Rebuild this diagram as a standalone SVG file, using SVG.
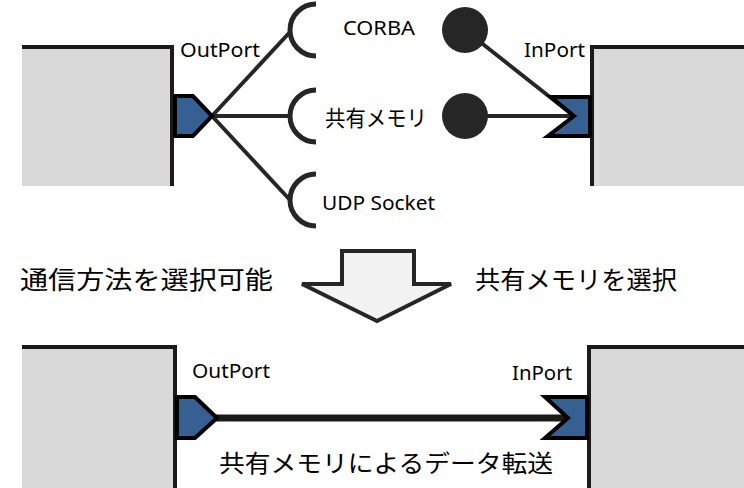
<svg xmlns="http://www.w3.org/2000/svg" width="744" height="488" viewBox="0 0 744 488">
<style>
.blk{fill:#d9d9d9;stroke:none}
.edge{stroke:#1c1a18;stroke-width:4;fill:none}
.port{fill:#376092;stroke:#000;stroke-width:4;stroke-linejoin:miter}
.wire{stroke:#262626;stroke-width:4;fill:none}
.sock{stroke:#262626;stroke-width:5;fill:none}
.ball{fill:#262626}
.lat{font-family:"Noto Sans","Open Sans",sans-serif;font-size:20px;fill:#000}
.jp{font-family:"Noto Sans CJK JP",sans-serif;fill:#000}
</style>
<rect width="744" height="488" fill="#fff"/>
<g id="connectors">
<line class="wire" x1="212" y1="116" x2="290" y2="32"/>
<line class="wire" x1="212" y1="116" x2="290" y2="116"/>
<line class="wire" x1="212" y1="116" x2="290" y2="200"/>
<line class="wire" x1="465" y1="30" x2="574" y2="116"/>
<line class="wire" x1="465" y1="116" x2="574" y2="116"/>
<line stroke="#1c1a18" stroke-width="7" x1="215" y1="418" x2="568" y2="418"/>
</g>
<g id="top-left-component">
<rect class="blk" x="22" y="47" width="150" height="139"/>
<path class="edge" d="M22 47H172V186"/>
<polygon class="port" points="175,96 193,96 212,116 193,136 175,136"/>
<text class="lat" x="180" y="57" textLength="80" lengthAdjust="spacingAndGlyphs">OutPort</text>
</g>
<g id="top-right-component">
<rect class="blk" x="592" y="47" width="152" height="139"/>
<path class="edge" d="M744 47H592V186"/>
<polygon class="port" points="551,97 590,97 590,136 548,136 574,116"/>
<text class="lat" x="524" y="57" textLength="61" lengthAdjust="spacingAndGlyphs">InPort</text>
</g>
<g id="socket-corba">
<path class="sock" d="M316 4A26 26 0 0 0 316 56"/>
<text class="lat" x="343" y="35" textLength="72" lengthAdjust="spacingAndGlyphs">CORBA</text>
<circle class="ball" cx="465" cy="30" r="23"/>
</g>
<g id="socket-shm">
<path class="sock" d="M316 90A26 26 0 0 0 316 142"/>
<text class="jp" x="325" y="126" font-size="22" textLength="102" lengthAdjust="spacingAndGlyphs">共有メモリ</text>
<circle class="ball" cx="465" cy="116" r="23"/>
</g>
<g id="socket-udp">
<path class="sock" d="M316 174A26 26 0 0 0 316 226"/>
<text class="lat" x="322" y="210" textLength="113" lengthAdjust="spacingAndGlyphs">UDP Socket</text>
</g>
<g id="transition">
<polygon points="342,251 414,251 414,284 451,284 377,321 302,284 342,284" fill="#f2f2f2" stroke="#262626" stroke-width="4" stroke-linejoin="miter"/>
<text class="jp" x="20" y="289" font-size="25" textLength="253" lengthAdjust="spacingAndGlyphs">通信方法を選択可能</text>
<text class="jp" x="475" y="289" font-size="25" textLength="202" lengthAdjust="spacingAndGlyphs">共有メモリを選択</text>
</g>
<g id="bottom-left-component">
<rect class="blk" x="22" y="347" width="153" height="141"/>
<path class="edge" d="M22 347H175V488"/>
<polygon class="port" points="177,397 195,397 217,418 195,438 177,438"/>
<text class="lat" x="192" y="378" textLength="78" lengthAdjust="spacingAndGlyphs">OutPort</text>
</g>
<g id="bottom-right-component">
<rect class="blk" x="589" y="347" width="155" height="141"/>
<path class="edge" d="M744 347H589V488"/>
<polygon class="port" points="545,397 587,397 587,438 545,438 568,418"/>
<text class="lat" x="512" y="380" textLength="60" lengthAdjust="spacingAndGlyphs">InPort</text>
</g>
<text class="jp" x="219" y="472" font-size="24" textLength="334" lengthAdjust="spacingAndGlyphs">共有メモリによるデータ転送</text>
</svg>
